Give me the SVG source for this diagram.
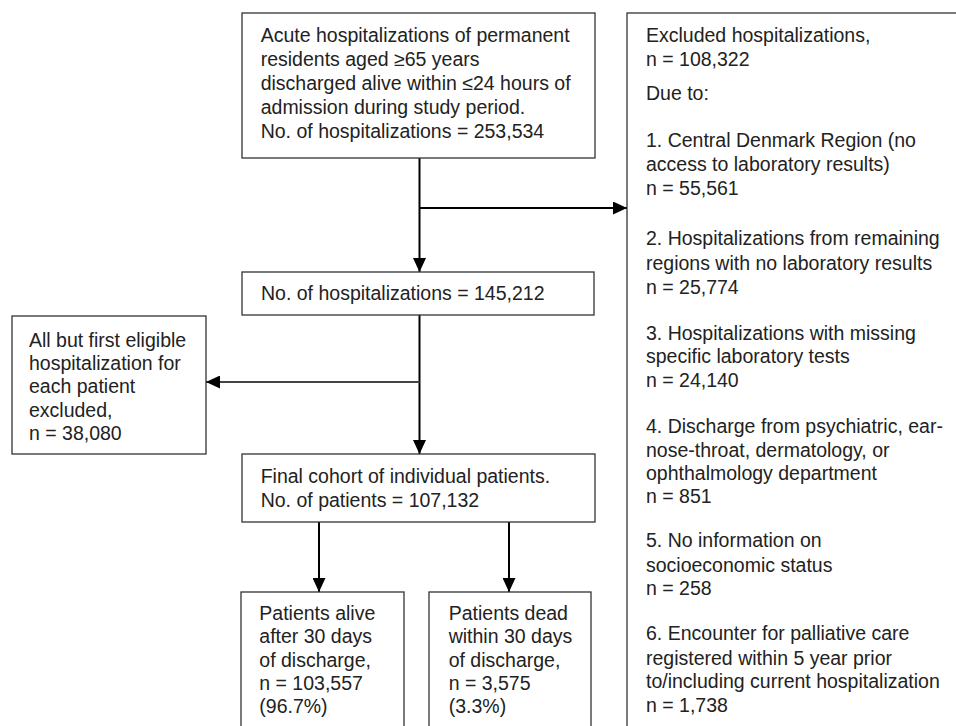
<svg xmlns="http://www.w3.org/2000/svg" width="956" height="726" viewBox="0 0 956 726">
<style>
.box{fill:#fff;stroke:#333;stroke-width:1.3}
.t{font-family:"Liberation Sans",Arial,sans-serif;font-size:19.5px;fill:#222}
.c{fill:none;stroke:#000;stroke-width:2}
</style>
<defs>
<marker id="ah" markerUnits="userSpaceOnUse" markerWidth="14" markerHeight="13" refX="14" refY="6.5" orient="auto">
<path d="M0,0 L14,6.5 L0,13 z" fill="#000"/>
</marker>
</defs>
<rect width="956" height="726" fill="#fff"/>
<g id="connectors">
<line class="c" x1="419.5" y1="158" x2="419.5" y2="272" marker-end="url(#ah)"/>
<line class="c" x1="419.5" y1="208" x2="627" y2="208" marker-end="url(#ah)"/>
<line class="c" x1="419.5" y1="315" x2="419.5" y2="454" marker-end="url(#ah)"/>
<line class="c" x1="419.5" y1="382" x2="206" y2="382" marker-end="url(#ah)" style="stroke:#444"/>
<line class="c" x1="319" y1="522" x2="319" y2="592" marker-end="url(#ah)"/>
<line class="c" x1="509" y1="522" x2="509" y2="592" marker-end="url(#ah)"/>
</g>
<g id="n_start">
<rect class="box" x="242" y="13" width="353" height="145"/>
<text class="t" x="260.7"><tspan x="260.7" y="41.7">Acute hospitalizations of permanent</tspan><tspan x="260.7" y="65.8">residents aged ≥65 years</tspan><tspan x="260.7" y="90">discharged alive within ≤24 hours of</tspan><tspan x="260.7" y="114.1">admission during study period.</tspan><tspan x="260.7" y="138.3">No. of hospitalizations = 253,534</tspan></text>
</g>
<g id="n_excluded">
<rect class="box" x="627" y="13" width="340" height="725"/>
<text class="t"><tspan x="646" y="41.7">Excluded hospitalizations,</tspan><tspan x="646" y="66">n = 108,322</tspan><tspan x="646" y="100">Due to:</tspan><tspan x="646" y="146.7">1. Central Denmark Region (no</tspan><tspan x="646" y="171">access to laboratory results)</tspan><tspan x="646" y="195">n = 55,561</tspan><tspan x="646" y="245">2. Hospitalizations from remaining</tspan><tspan x="646" y="269.5">regions with no laboratory results</tspan><tspan x="646" y="294">n = 25,774</tspan><tspan x="646" y="339.5">3. Hospitalizations with missing</tspan><tspan x="646" y="363.3">specific laboratory tests</tspan><tspan x="646" y="387">n = 24,140</tspan><tspan x="646" y="433">4. Discharge from psychiatric, ear-</tspan><tspan x="646" y="456.7">nose-throat, dermatology, or</tspan><tspan x="646" y="479.5">ophthalmology department</tspan><tspan x="646" y="503.3">n = 851</tspan><tspan x="646" y="547">5. No information on</tspan><tspan x="646" y="571.5">socioeconomic status</tspan><tspan x="646" y="595">n = 258</tspan><tspan x="646" y="640">6. Encounter for palliative care</tspan><tspan x="646" y="664.5">registered within 5 year prior</tspan><tspan x="646" y="688.3">to/including current hospitalization</tspan><tspan x="646" y="712">n = 1,738</tspan></text>
</g>
<g id="n_hosp">
<rect class="box" x="242" y="272" width="352" height="43"/>
<text class="t" x="261" y="300">No. of hospitalizations = 145,212</text>
</g>
<g id="n_firstonly">
<rect class="box" x="12" y="316" width="194" height="138"/>
<text class="t"><tspan x="29" y="346.7">All but first eligible</tspan><tspan x="29" y="370">hospitalization for</tspan><tspan x="29" y="393.3">each patient</tspan><tspan x="29" y="416.7">excluded,</tspan><tspan x="29" y="440">n = 38,080</tspan></text>
</g>
<g id="n_cohort">
<rect class="box" x="242" y="454" width="353" height="68"/>
<text class="t"><tspan x="260.7" y="483.3">Final cohort of individual patients.</tspan><tspan x="260.7" y="506.7">No. of patients = 107,132</tspan></text>
</g>
<g id="n_alive">
<rect class="box" x="241" y="592" width="163" height="150"/>
<text class="t"><tspan x="259.3" y="620">Patients alive</tspan><tspan x="259.3" y="643.3">after 30 days</tspan><tspan x="259.3" y="666.7">of discharge,</tspan><tspan x="259.3" y="690">n = 103,557</tspan><tspan x="259.3" y="713.3">(96.7%)</tspan></text>
</g>
<g id="n_dead">
<rect class="box" x="429" y="592" width="162" height="150"/>
<text class="t"><tspan x="448.7" y="620">Patients dead</tspan><tspan x="448.7" y="643.3">within 30 days</tspan><tspan x="448.7" y="666.7">of discharge,</tspan><tspan x="448.7" y="690">n = 3,575</tspan><tspan x="448.7" y="713.3">(3.3%)</tspan></text>
</g>
</svg>
